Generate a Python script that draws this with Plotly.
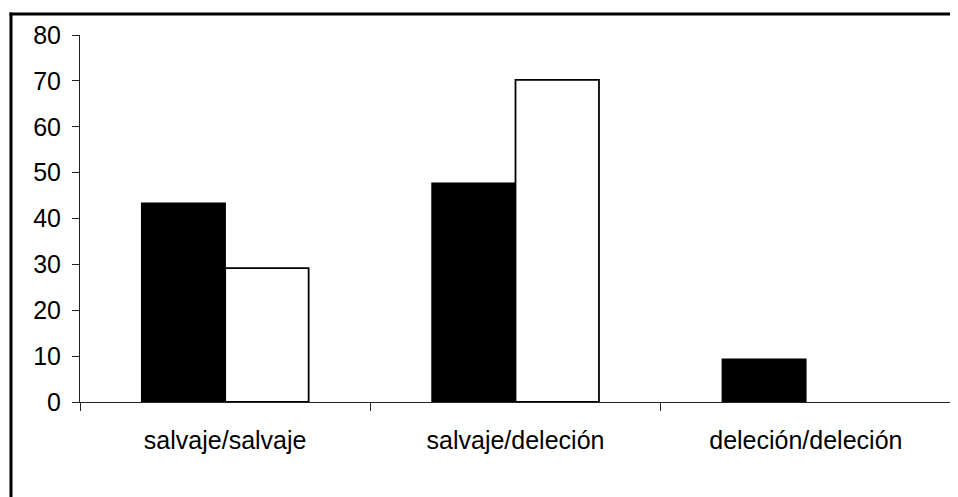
import plotly.graph_objects as go

categories = ["salvaje/salvaje", "salvaje/deleción", "deleción/deleción"]
serie_negra = [43.3, 47.7, 9.3]
serie_blanca = [29.2, 70.2, 0]
y_ticks = [0, 10, 20, 30, 40, 50, 60, 70, 80]

OFF = 8  # default page body margin
W, H = 958 - OFF, 497 - OFF
L, R, T, B = 80 - OFF, 7, 35 - OFF, 95
pw = W - L - R
ph = H - T - B

def px_x(p):
    return (p - OFF - L) / pw

def px_y(p):
    return (H - B - (p - OFF)) / ph

fig = go.Figure()
fig.add_trace(go.Bar(x=categories, y=serie_negra,
                     marker=dict(color="black", line=dict(color="black", width=1.5))))
fig.add_trace(go.Bar(x=categories, y=serie_blanca,
                     marker=dict(color="white", line=dict(color="black", width=[1.8, 1.8, 0]))))

fig.update_layout(
    width=W, height=H,
    margin=dict(l=L, r=R, t=T, b=B, autoexpand=False),
    paper_bgcolor="white", plot_bgcolor="white",
    showlegend=False,
    barmode="group", bargap=0.425, bargroupgap=0,
    font=dict(family="Liberation Sans, Arial, sans-serif", size=25, color="black"),
    xaxis=dict(showline=True, linecolor="#222", linewidth=1, showgrid=False, zeroline=False,
               ticks="outside", tickson="boundaries", ticklen=8, tickcolor="#222",
               ticklabelstandoff=16),
    yaxis=dict(range=[0, 80], tickvals=y_ticks, showline=True, linecolor="#222", linewidth=1,
               showgrid=False, zeroline=False, ticks="outside", ticklen=7, tickcolor="#222",
               ticklabelstandoff=6),
    shapes=[
        dict(type="line", xref="paper", yref="paper", x0=px_x(9.5), x1=px_x(970), y0=px_y(14), y1=px_y(14),
             line=dict(color="black", width=3)),
        dict(type="line", xref="paper", yref="paper", x0=px_x(11), x1=px_x(11), y0=px_y(12.5), y1=px_y(520),
             line=dict(color="black", width=3)),
    ],
)

fig.write_html("out.html")
